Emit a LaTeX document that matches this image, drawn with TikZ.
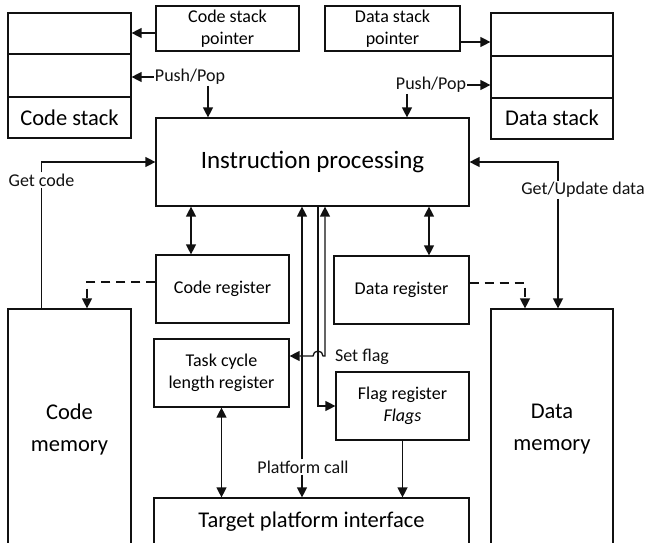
\documentclass[tikz,border=0pt]{standalone}
\usepackage{fontspec}
\setmainfont{Carlito}
\usetikzlibrary{arrows.meta}
\definecolor{ink}{HTML}{111111}

\begin{document}
\begin{tikzpicture}[x=1pt,y=-1pt,
  box/.style={draw=ink,line width=1.2pt,inner sep=0pt,align=center,fill=white},
  sm/.style={font=\fontsize{18}{22}\selectfont},
  md/.style={font=\fontsize{22.5}{32}\selectfont},
  lg/.style={font=\fontsize{25}{30}\selectfont},
  lbl/.style={sm,inner sep=1pt,text=ink},
  ar/.style={-{Triangle[length=10pt,width=10pt]},draw=ink,line width=1.3pt},
  dar/.style={{Triangle[length=10pt,width=10pt]}-{Triangle[length=10pt,width=10pt]},draw=ink,line width=1.3pt},
  dsh/.style={ar,dash pattern=on 9pt off 6pt}]
\useasboundingbox (0,0) rectangle (648,543);
\clip (0,0) rectangle (648,543);
% stacks and their pointers
\node[box,minimum width=123pt,minimum height=125pt] (cs) at (69.5,75.5) {};
\node[box,minimum width=122pt,minimum height=126pt] (ds) at (552,76) {};
\foreach \y in {54,97} {\draw[ink,line width=1.2pt] (cs.west |- 0,\y) -- (cs.east |- 0,\y);}
\foreach \y in {56,98} {\draw[ink,line width=1.2pt] (ds.west |- 0,\y) -- (ds.east |- 0,\y);}
\node[md] (cst) at (69.5,117.5) {Code stack};
\node[md] (dst) at (552,118) {Data stack};
\node[box,sm,minimum width=143pt,minimum height=45pt] (csp) at (227.5,28.5) {Code stack\\pointer};
\node[box,sm,minimum width=135pt,minimum height=45pt] (dsp) at (392.5,28.5) {Data stack\\pointer};
\draw[ar] (csp.west |- 0,33) -- (cs.east |- 0,33);
\draw[ar] (dsp.east |- 0,42) -- (ds.west |- 0,42);
% core blocks
\node[box,lg,minimum width=313pt,minimum height=88pt] (ip) at (312.5,162) {Instruction processing};
\node[box,sm,minimum width=133pt,minimum height=68pt] (creg) at (222.5,289) {Code register};
\node[box,sm,minimum width=135pt,minimum height=68pt] (dreg) at (401.5,290) {Data register};
\node[box,sm,minimum width=135pt,minimum height=68pt] (tcl) at (221.5,373) {Task cycle\\length register};
\node[box,sm,minimum width=133pt,minimum height=68pt] (freg) at (402.5,406) {Flag register\\\textit{Flags}};
\node[box,md,minimum width=123pt,minimum height=240pt] (cmem) at (69.5,429) {Code\\memory};
\node[box,md,minimum width=122pt,minimum height=240pt] (dmem) at (552,429) {Data\\memory};
\node[box,md,minimum width=315pt,minimum height=48pt] (tpi) at (311.5,522) {Target platform interface};
% push/pop
\node[lbl] (pp1) at (190,77) {Push/Pop};
\draw[ar] (pp1.west) -- (pp1.west -| cs.east);
\draw[ar] (pp1.south -| 208,0) -- (ip.north -| 208,0);
\node[lbl] (pp2) at (431,85) {Push/Pop};
\draw[ar] (pp2.east) -- (pp2.east -| ds.west);
\draw[ar] (pp2.south -| 407,0) -- (ip.north -| 407,0);
% memories
\node[lbl] (gc) at (41.5,180) {Get code};
\draw[ar] (gc.north) |- (ip.west);
\draw[ink,line width=1.3pt] (gc.south) -- (gc.south |- cmem.north);
\node[lbl] (gu) at (583,190) {Get/Update data};
\draw[ar] (gu.north -| 558,0) |- (ip.east);
\draw[ar] (gu.south -| 558,0) -- (dmem.north -| 558,0);
\draw[dar] (ip.south -| 191,0) -- (creg.north -| 191,0);
\draw[dar] (ip.south -| 429,0) -- (dreg.north -| 429,0);
\draw[dsh] (creg.west |- 0,282) -| (cmem.north -| 87,0);
\draw[dsh] (dreg.east |- 0,283) -| (dmem.north -| 525,0);
% flags and platform
\node[lbl] (pc) at (303,467) {Platform call};
\draw[ar] (pc.north -| 302,0) -- (ip.south -| 302,0);
\draw[ar] (pc.south -| 302,0) -- (tpi.north -| 302,0);
\draw[ar] (ip.south -| 318,0) |- (freg.west);
\draw[dar] (ip.south -| 325,0) -- (325,356) -- (323,356) arc[start angle=0,end angle=180,radius=5pt] -- (tcl.east |- 0,356);
\node[lbl] (sf) at (362,357) {Set flag};
\draw[dar] (tcl.south) -- (tcl.south |- tpi.north);
\draw[ar] (freg.south) -- (freg.south |- tpi.north);
\end{tikzpicture}
\end{document}
